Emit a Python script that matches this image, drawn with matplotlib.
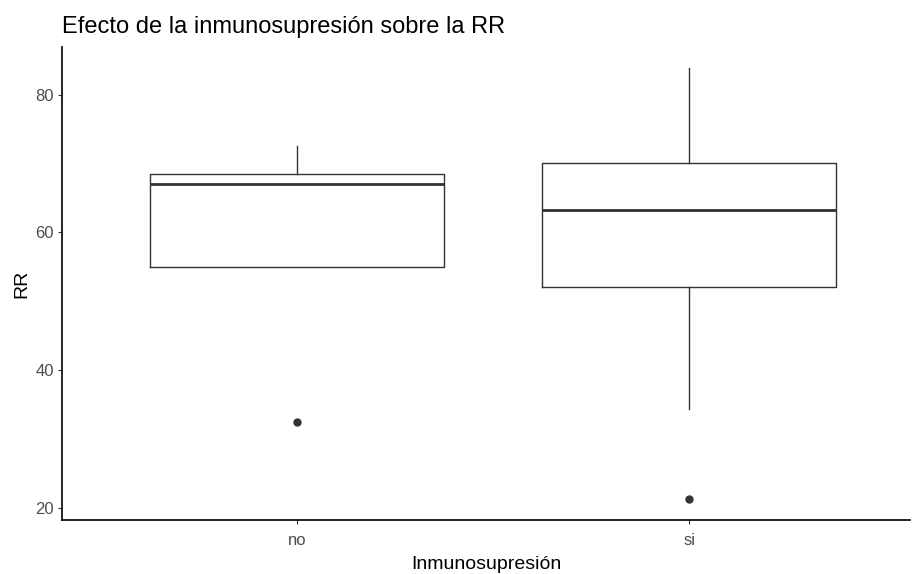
import matplotlib
matplotlib.use("Agg")
import matplotlib.pyplot as plt

plt.rcParams["font.family"] = ["Liberation Sans", "DejaVu Sans"]

# summary stats
groups = ["no", "si"]
q1 = [55.0, 52.0]
medians = [67.0, 63.3]
q3 = [68.4, 70.1]
whisker_low = [55.0, 34.3]
whisker_high = [72.6, 83.8]
outliers = [[32.5], [21.3]]

stats = []
for i, g in enumerate(groups):
    stats.append({
        "label": g,
        "q1": q1[i],
        "med": medians[i],
        "q3": q3[i],
        "whislo": whisker_low[i],
        "whishi": whisker_high[i],
        "fliers": outliers[i],
    })

fig = plt.figure(figsize=(9.13, 5.74), dpi=100)
ax = fig.add_axes([0.0679, 0.094, 0.929, 0.824])

col = "#333333"
ax.bxp(stats, positions=[1, 2], widths=0.75, showcaps=False,
       boxprops=dict(color=col, linewidth=1.0),
       whiskerprops=dict(color=col, linewidth=1.0),
       medianprops=dict(color=col, linewidth=2.0),
       flierprops=dict(marker="o", markerfacecolor=col, markeredgecolor=col,
                       markersize=5))

ax.set_xlim(0.4, 2.563)
ax.set_ylim(18.2, 86.9)
ax.set_yticks([20, 40, 60, 80])
ax.set_xticks([1, 2])
ax.set_xticklabels(groups)

for s in ["top", "right"]:
    ax.spines[s].set_visible(False)
for s in ["left", "bottom"]:
    ax.spines[s].set_linewidth(1.2)
    ax.spines[s].set_color("black")
ax.tick_params(colors="#333333", labelcolor="#4D4D4D", labelsize=12,
               length=3, width=0.8, pad=3)
ax.tick_params(axis="x", pad=6)

ax.set_xlabel("Inmunosupresión", fontsize=14, labelpad=6)
ax.set_ylabel("RR", fontsize=14, labelpad=3)
fig.text(0.0679, 0.9425, "Efecto de la inmunosupresión sobre la RR",
         fontsize=17, ha="left", va="baseline")

fig.savefig("out.png", dpi=100)
